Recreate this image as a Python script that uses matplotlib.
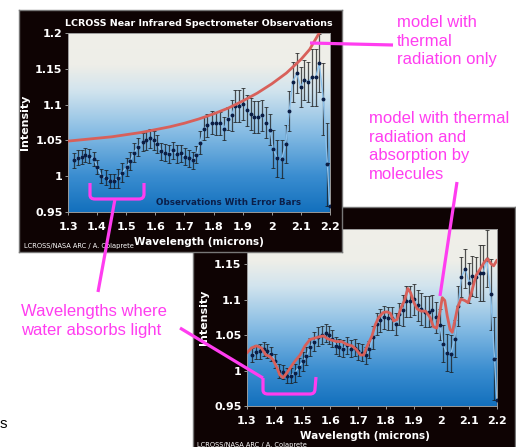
import numpy as np
import matplotlib
matplotlib.use("Agg")
from matplotlib import pyplot as plt
from matplotlib.colors import LinearSegmentedColormap
from matplotlib.path import Path
from matplotlib.patches import PathPatch

# observations (microns, intensity, error)
wavelength = [1.319, 1.334, 1.348, 1.360, 1.372, 1.388, 1.401, 1.415, 1.430, 1.443,
              1.458, 1.472, 1.487, 1.501, 1.514, 1.526, 1.541, 1.556, 1.569, 1.583,
              1.595, 1.606, 1.621, 1.633, 1.646, 1.659, 1.673, 1.688, 1.701, 1.715,
              1.730, 1.741, 1.753, 1.767, 1.779, 1.793, 1.807, 1.822, 1.836, 1.848,
              1.862, 1.873, 1.888, 1.902, 1.914, 1.927, 1.940, 1.954, 1.967, 1.980,
              1.994, 2.005, 2.019, 2.034, 2.048, 2.060, 2.072, 2.086, 2.099, 2.111,
              2.126, 2.139, 2.151, 2.163, 2.177, 2.191, 2.199]
intensity = [1.022, 1.026, 1.027, 1.030, 1.028, 1.024, 1.013, 1.000, 0.998, 0.993,
             0.993, 0.997, 1.005, 1.013, 1.021, 1.033, 1.041, 1.048, 1.050, 1.053,
             1.050, 1.045, 1.035, 1.033, 1.031, 1.036, 1.031, 1.032, 1.027, 1.025,
             1.022, 1.030, 1.047, 1.066, 1.071, 1.075, 1.074, 1.074, 1.066, 1.080,
             1.085, 1.098, 1.098, 1.101, 1.092, 1.087, 1.083, 1.083, 1.085, 1.075,
             1.065, 1.038, 1.025, 1.024, 1.045, 1.091, 1.132, 1.144, 1.124, 1.134,
             1.132, 1.138, 1.138, 1.158, 1.108, 1.017, 0.958]
error = [0.010, 0.010, 0.010, 0.010, 0.010, 0.010, 0.010, 0.010, 0.010, 0.010,
         0.010, 0.013, 0.013, 0.013, 0.013, 0.013, 0.013, 0.013, 0.013, 0.013,
         0.013, 0.012, 0.012, 0.012, 0.012, 0.012, 0.012, 0.012, 0.012, 0.012,
         0.012, 0.012, 0.016, 0.016, 0.016, 0.016, 0.016, 0.016, 0.016, 0.016,
         0.022, 0.022, 0.022, 0.022, 0.022, 0.022, 0.022, 0.022, 0.022, 0.022,
         0.022, 0.026, 0.026, 0.026, 0.026, 0.028, 0.028, 0.028, 0.028, 0.028,
         0.028, 0.040, 0.040, 0.040, 0.050, 0.058, 0.060]

# model with thermal radiation only
thermal_wl = [1.30, 1.35, 1.40, 1.45, 1.50, 1.55, 1.60, 1.65, 1.70, 1.75,
              1.80, 1.85, 1.90, 1.95, 2.00, 2.05, 2.10, 2.13, 2.16, 2.18]
thermal_int = [1.049, 1.051, 1.053, 1.055, 1.058, 1.061, 1.065, 1.069, 1.074, 1.080,
               1.087, 1.095, 1.105, 1.116, 1.129, 1.144, 1.163, 1.177, 1.198, 1.212]

# model with thermal radiation and absorption by molecules
absorb_wl = [1.300, 1.316, 1.334, 1.352, 1.368, 1.382, 1.394, 1.409, 1.418, 1.430,
             1.442, 1.454, 1.472, 1.491, 1.509, 1.527, 1.545, 1.563, 1.575, 1.590,
             1.605, 1.623, 1.641, 1.659, 1.678, 1.693, 1.708, 1.720, 1.732, 1.750,
             1.762, 1.774, 1.790, 1.804, 1.816, 1.828, 1.840, 1.855, 1.867, 1.879,
             1.889, 1.901, 1.913, 1.927, 1.943, 1.959, 1.971, 1.983, 1.995, 2.003,
             2.012, 2.021, 2.031, 2.039, 2.048, 2.058, 2.070, 2.084, 2.096, 2.108,
             2.124, 2.140, 2.154, 2.166, 2.178, 2.188, 2.200]
absorb_int = [1.025, 1.032, 1.035, 1.032, 1.022, 1.020, 1.015, 1.003, 0.994, 0.990,
              0.996, 1.003, 1.013, 1.022, 1.035, 1.044, 1.046, 1.048, 1.049, 1.045,
              1.043, 1.041, 1.041, 1.037, 1.035, 1.030, 1.022, 1.022, 1.034, 1.049,
              1.065, 1.075, 1.082, 1.083, 1.081, 1.070, 1.072, 1.089, 1.099, 1.116,
              1.110, 1.096, 1.087, 1.084, 1.084, 1.075, 1.062, 1.060, 1.084, 1.103,
              1.099, 1.077, 1.058, 1.054, 1.070, 1.089, 1.101, 1.099, 1.096, 1.110,
              1.134, 1.144, 1.153, 1.158, 1.151, 1.148, 1.156]

x_ticks = [1.3, 1.4, 1.5, 1.6, 1.7, 1.8, 1.9, 2.0, 2.1, 2.2]
x_labels = ["1.3", "1.4", "1.5", "1.6", "1.7", "1.8", "1.9", "2", "2.1", "2.2"]
y_ticks = [0.95, 1.0, 1.05, 1.1, 1.15, 1.2]
y_labels = ["0.95", "1", "1.05", "1.1", "1.15", "1.2"]

W, H = 516, 447
FRAME = "#0e0303"
PINK = "#ff3df0"

fig = plt.figure(figsize=(W / 100, H / 100), dpi=100, facecolor="white")


def fr(x, y):
    # pixel position -> figure fraction
    return x / W, 1 - y / H


def box(x0, y0, x1, y1):
    return [x0 / W, 1 - y1 / H, (x1 - x0) / W, (y1 - y0) / H]


grad = LinearSegmentedColormap.from_list("sky", [
    (0.0, "#1370bd"), (0.2, "#3a8dd0"), (0.45, "#88bde4"),
    (0.68, "#d2e4ee"), (0.82, "#eeeee8"), (1.0, "#f0efe9")])


def panel(frame_box, plot_box, z, yticks, ylabels, title=None, model=None, note=None):
    fax = fig.add_axes(box(*frame_box), facecolor=FRAME)
    fax.set_xticks([])
    fax.set_yticks([])
    for s in fax.spines.values():
        s.set_color("#777777")
        s.set_linewidth(1)
    fax.set_zorder(z)

    ax = fig.add_axes(box(*plot_box))
    ax.set_zorder(z + 0.5)
    ax.imshow(np.linspace(0, 1, 256).reshape(-1, 1), extent=[1.3, 2.2, 0.95, 1.2],
              origin="lower", aspect="auto", cmap=grad, zorder=0)
    ax.errorbar(wavelength, intensity, yerr=error, fmt="none", ecolor="#1a1a1a",
                elinewidth=0.9, capsize=1.6, capthick=0.7, alpha=0.75, zorder=2)
    ax.plot(wavelength, intensity, color="#8cc0ea", lw=1.0, zorder=3)
    ax.plot(wavelength, intensity, "o", color="#0b1d44", ms=1.8, zorder=4)
    if model is not None:
        ax.plot(model[0], model[1], color="#d8605a", lw=2.0, zorder=5, solid_capstyle="round")
    ax.set_xlim(1.3, 2.2)
    ax.set_ylim(0.95, 1.2)
    ax.set_xticks(x_ticks)
    ax.set_xticklabels(x_labels)
    ax.set_yticks(yticks)
    ax.set_yticklabels(ylabels)
    ax.tick_params(colors="#999999", labelcolor="white", length=2.5, width=0.7, pad=5)
    for lab in ax.get_xticklabels() + ax.get_yticklabels():
        lab.set_fontweight("bold")
        lab.set_fontsize(8)
    ax.tick_params(axis="y", pad=1.5)
    for s in ax.spines.values():
        s.set_color("#9a9a9a")
        s.set_linewidth(0.7)
    ax.set_xlabel("Wavelength (microns)", color="white", fontweight="bold", fontsize=7.5, labelpad=3)
    ax.set_ylabel("Intensity", color="white", fontweight="bold", fontsize=8, labelpad=4)
    if title:
        ax.set_title(title, color="white", fontweight="bold", fontsize=6.8, pad=5)
    if note:
        ax.text(1.85, 0.957, note, color="#0b1f4a", fontsize=6.3, fontweight="bold",
                ha="center", va="bottom")
    return fax, ax


# lower panel first, upper panel on top of it (its top tick label stays hidden)
fax2, ax2 = panel((193, 207, 515, 452), (247, 229, 497, 406), 1,
                  y_ticks[:-1], y_labels[:-1], model=(absorb_wl, absorb_int))
ax2.xaxis.label.set_position((0.47, 0))
fax2.text(4 / 322, 4 / 245, "LCROSS/NASA ARC / A. Colaprete", color="white",
          fontsize=4.8, transform=fax2.transAxes, va="bottom")

fax1, ax1 = panel((19, 10, 342, 252), (68, 33, 330, 212), 2, y_ticks, y_labels,
                  title="LCROSS Near Infrared Spectrometer Observations",
                  model=(thermal_wl, thermal_int), note="Observations With Error Bars")
fax1.text(5 / 323, 3 / 242, "LCROSS/NASA ARC / A. Colaprete", color="white",
          fontsize=4.8, transform=fax1.transAxes, va="bottom")


# magenta annotations
def stroke(pts, curved=False):
    verts = [fr(*p) for p in pts]
    if curved:
        codes = [Path.MOVETO, Path.LINETO, Path.CURVE3, Path.CURVE3, Path.LINETO,
                 Path.CURVE3, Path.CURVE3, Path.LINETO]
    else:
        codes = [Path.MOVETO] + [Path.LINETO] * (len(verts) - 1)
    fig.add_artist(PathPatch(Path(verts, codes), fill=False, edgecolor=PINK, lw=2.3,
                             transform=fig.transFigure, zorder=10, capstyle="butt"))


stroke([(90, 183), (90, 195), (90, 199), (95, 199), (139, 199), (144, 199), (144, 194), (144, 183)], True)
stroke([(115, 199), (98, 292)])
stroke([(263, 378), (263, 390), (263, 394), (268, 394), (310, 394), (315, 394), (315, 389), (316, 377)], True)
stroke([(263, 378), (180, 328)])
stroke([(310, 43), (393, 45)])
stroke([(457, 182), (440, 296)])

font_ann = dict(color=PINK, fontsize=12, family="Liberation Sans", va="top", ha="left",
                linespacing=1.3, zorder=11)
fig.text(*fr(397, 15), "model with\nthermal\nradiation only", **font_ann)
fig.text(*fr(369, 111), "model with thermal\nradiation and\nabsorption by\nmolecules", **font_ann)
fig.text(*fr(21, 304), "Wavelengths where\nwater absorbs light", **font_ann)
fig.text(*fr(0, 417), "s", color="black", fontsize=11, family="Liberation Sans", va="top")

fig.savefig("out.png", dpi=100, facecolor="white")
